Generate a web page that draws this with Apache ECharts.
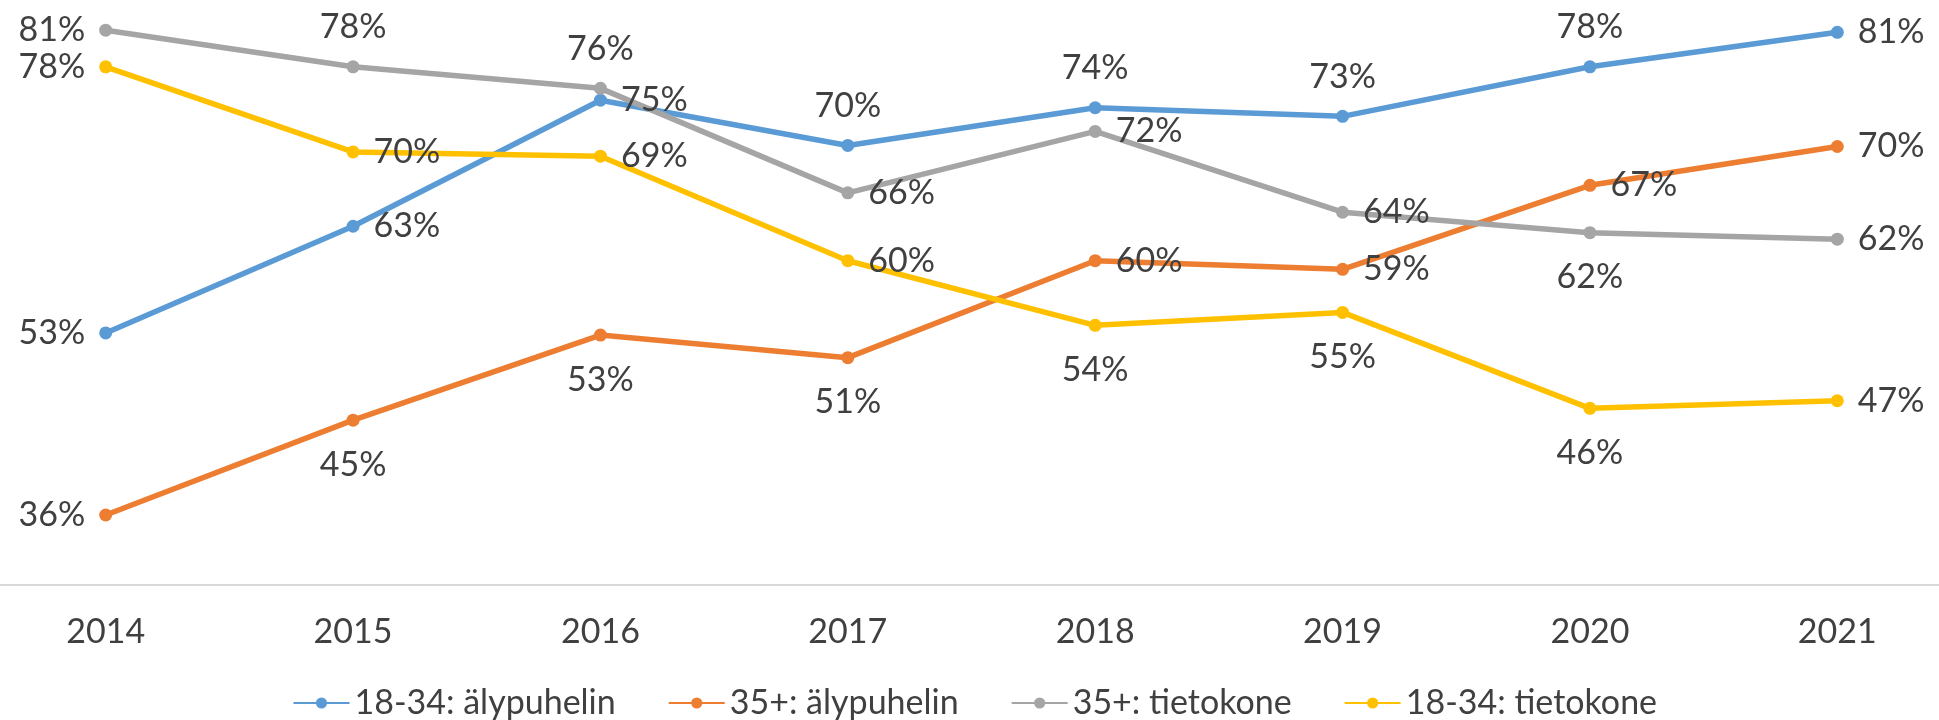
<!DOCTYPE html>
<html>
<head>
<meta charset="utf-8">
<script src="https://cdn.jsdelivr.net/npm/echarts@6/dist/echarts.min.js"></script>
<style>
  html, body { margin: 0; padding: 0; background: #fff; overflow: hidden; }
  /* the plot runs a little past both window edges, like the original crop */
  #chart { position: absolute; left: -18.5px; top: 0; width: 1978.5px; height: 720px; }
</style>
</head>
<body>
<div id="chart"></div>
<script>
const years = ['2014', '2015', '2016', '2017', '2018', '2019', '2020', '2021']

const seriesNames = ['18-34: älypuhelin', '35+: älypuhelin', '35+: tietokone', '18-34: tietokone']
// values (labels show them rounded)
const youngPhone = [52.9, 62.8, 74.5, 70.3, 73.8, 73.0, 77.6, 80.8]
const oldPhone = [36.0, 44.8, 52.7, 50.6, 59.6, 58.8, 66.6, 70.2]
const oldComputer = [81.0, 77.6, 75.6, 65.9, 71.6, 64.1, 62.2, 61.6]
const youngComputer = [77.6, 69.7, 69.3, 59.6, 53.6, 54.8, 45.9, 46.6]

// where each data label sits
const youngPhonePos = ['left', 'right', 'right', 'top', 'top', 'top', 'top', 'right']
const oldPhonePos = ['left', 'bottom', 'bottom', 'bottom', 'right', 'right', 'right', 'right']
const oldComputerPos = ['left', 'top', 'top', 'right', 'right', 'right', 'bottom', 'right']
const youngComputerPos = ['left', 'right', 'right', 'right', 'bottom', 'bottom', 'bottom', 'right']

const colors = ['#5B9BD5', '#ED7D31', '#A5A5A5', '#FFC000']
const font = 'Lato, "Open Sans", sans-serif'
const textColor = '#404040'
const labelGap = { left: 14, right: 14, top: 16, bottom: 21 }

function makeSeries(name, values, positions, color) {
  return {
    name: name,
    type: 'line',
    symbol: 'circle',
    symbolSize: 13,
    color: color,
    lineStyle: { width: 5.5, color: color },
    itemStyle: { color: color },
    data: values.map((v, i) => ({
      value: v,
      label: { position: positions[i], distance: labelGap[positions[i]] }
    })),
    label: {
      show: true,
      formatter: p => Math.round(p.value) + '%',
      color: textColor,
      fontSize: 34,
      fontFamily: font
    },
    emphasis: { disabled: true },
    animation: false
  }
}

const chart = echarts.init(document.getElementById('chart'))
chart.setOption({
  backgroundColor: '#fff',
  grid: { left: 0, right: 0, top: 0, bottom: 135 },
  legend: {
    left: 287 + 18.5,
    top: 681,
    itemWidth: 56,
    itemHeight: 14,
    itemGap: 52,
    textStyle: { color: textColor, fontSize: 34, fontFamily: font },
    data: seriesNames
  },
  xAxis: {
    type: 'category',
    data: years,
    boundaryGap: true,
    axisLine: { lineStyle: { color: '#D9D9D9', width: 2 } },
    axisTick: { show: false },
    axisLabel: { color: textColor, fontSize: 34, fontFamily: font, margin: 30 }
  },
  yAxis: {
    type: 'value',
    min: 29.5,
    max: 83.8,
    show: false,
    splitLine: { show: false }
  },
  series: [
    makeSeries(seriesNames[0], youngPhone, youngPhonePos, colors[0]),
    makeSeries(seriesNames[1], oldPhone, oldPhonePos, colors[1]),
    makeSeries(seriesNames[2], oldComputer, oldComputerPos, colors[2]),
    makeSeries(seriesNames[3], youngComputer, youngComputerPos, colors[3])
  ]
})
</script>
</body>
</html>
